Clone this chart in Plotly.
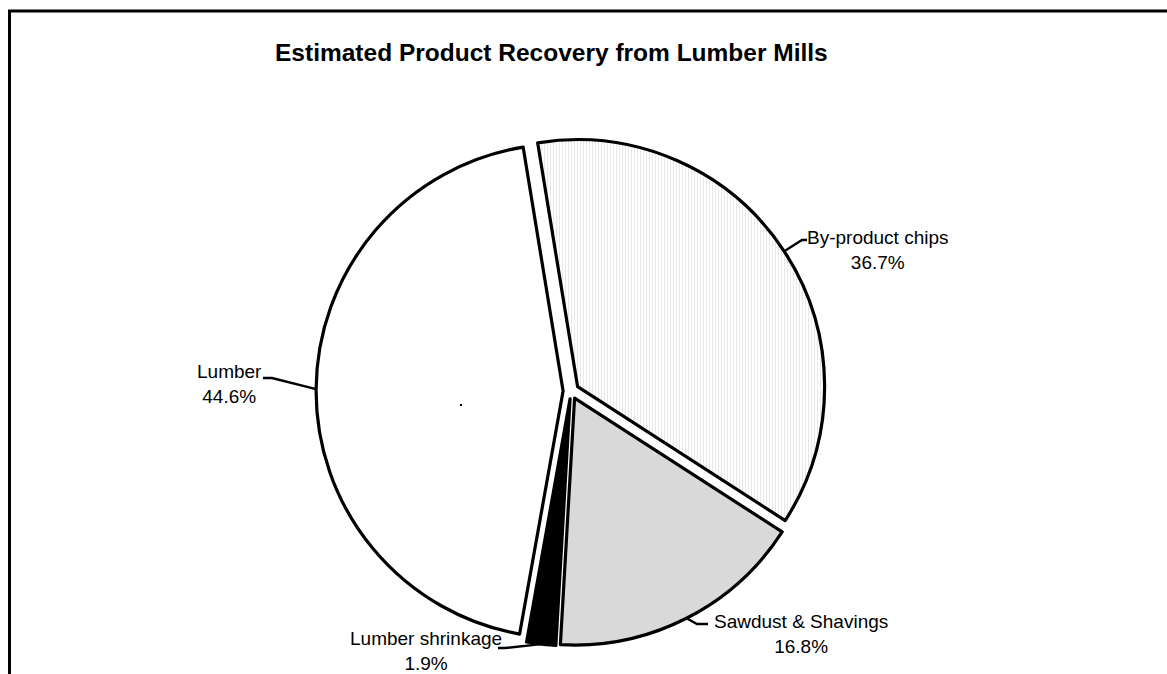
import math
import plotly.graph_objects as go

# ---- data -------------------------------------------------------------
categories = ["By-product chips", "Sawdust & Shavings", "Lumber shrinkage", "Lumber"]
shares = [36.7, 16.8, 1.9, 44.6]
title_text = "Estimated Product Recovery from Lumber Mills"

# ---- styling / layout -------------------------------------------------
fills = ["#ffffff", "#d9d9d9", "#000000", "#ffffff"]
patterns = ["|", "", "", ""]
FONT = "Arial, 'Liberation Sans', sans-serif"

W, H = 1167, 674
CX, CY = 571, 391          # pie centre in pixels (from top-left)
R = 247                    # slice radius in pixels
PULL = 0.032               # explode fraction of radius
START = -9.3               # first slice start, degrees clockwise from 12 o'clock

# label block centre, leader elbow and leader end (pixels)
label_pos = {
    "By-product chips":   dict(text=(878, 250), elbow=(802, 240), end=(807, 240)),
    "Sawdust & Shavings": dict(text=(801, 634), elbow=(697, 624), end=(708, 624)),
    "Lumber shrinkage":   dict(text=(426, 651), elbow=(505, 648), end=(498, 648)),
    "Lumber":             dict(text=(229, 384), elbow=(272, 378), end=(263, 378)),
}


def px(x, y):
    """Pixel coordinates -> paper coordinates."""
    return x / W, 1 - y / H


half = R * (1 + PULL)
dom_x = [(CX - half) / W, (CX + half) / W]
dom_y = [(H - CY - half) / H, (H - CY + half) / H]

fig = go.Figure(
    go.Pie(
        labels=categories,
        values=shares,
        sort=False,
        direction="clockwise",
        rotation=START,
        pull=[PULL] * len(shares),
        textinfo="none",
        hoverinfo="label+percent",
        showlegend=False,
        domain=dict(x=dom_x, y=dom_y),
        marker=dict(
            colors=fills,
            line=dict(color="#000000", width=3.2),
            pattern=dict(shape=patterns, fgcolor="#e2e8e2", size=3, solidity=0.3),
        ),
    )
)

# ---- leader lines and labels ------------------------------------------
total = sum(shares)
shapes = []
annotations = []
cum = 0.0
for name, val in zip(categories, shares):
    mid = math.radians(START + 360 * (cum + val / 2) / total)
    cum += val
    ex = CX + half * math.sin(mid)
    ey = CY - half * math.cos(mid)
    pos = label_pos[name]
    pts = [(ex, ey), pos["elbow"], pos["end"]]
    path = "M " + " L ".join(f"{px(x, y)[0]:.5f},{px(x, y)[1]:.5f}" for x, y in pts)
    shapes.append(dict(type="path", xref="paper", yref="paper", path=path,
                       line=dict(color="#000000", width=2.4)))
    tx, ty = px(*pos["text"])
    annotations.append(dict(
        x=tx, y=ty, xref="paper", yref="paper", xanchor="center", yanchor="middle",
        text=f"{name}<br>{val:.1f}%", showarrow=False, align="center",
        font=dict(family=FONT, size=19, color="#000000"),
    ))

# chart title
tx, ty = px(551.5, 52)
annotations.append(dict(
    x=tx, y=ty, xref="paper", yref="paper", xanchor="center", yanchor="middle",
    text=f"<b>{title_text}</b>", showarrow=False,
    font=dict(family=FONT, size=24.5, color="#000000"),
))

# chart frame (left and top edges)
x0, y0 = px(9.5, 11)
shapes.append(dict(type="line", xref="paper", yref="paper", x0=x0, y0=y0, x1=x0, y1=-0.02,
                   line=dict(color="#000000", width=3)))
shapes.append(dict(type="line", xref="paper", yref="paper", x0=px(8, 0)[0], y0=y0, x1=1.02, y1=y0,
                   line=dict(color="#000000", width=3)))

# small stray point inside the lumber slice
a0, b0 = px(460, 404)
a1, b1 = px(462, 406)
shapes.append(dict(type="rect", xref="paper", yref="paper", x0=a0, y0=b1, x1=a1, y1=b0,
                   fillcolor="#000000", line=dict(width=0)))

fig.update_layout(
    width=W, height=H,
    margin=dict(l=0, r=0, t=0, b=0),
    paper_bgcolor="#ffffff",
    plot_bgcolor="#ffffff",
    shapes=shapes,
    annotations=annotations,
    font=dict(family=FONT, color="#000000"),
)

fig.write_html("out.html")
